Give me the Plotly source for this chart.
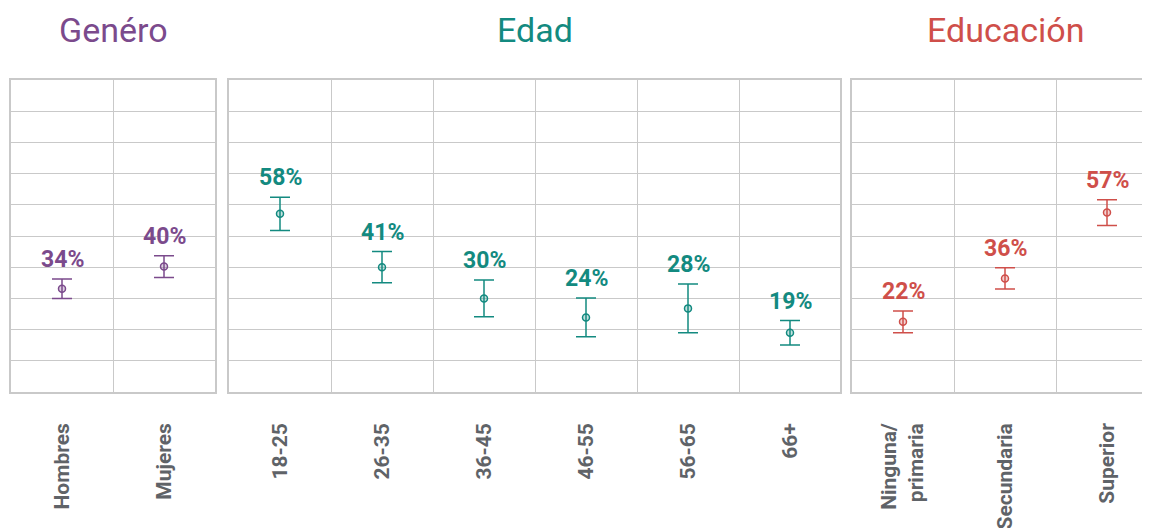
import plotly.graph_objects as go

# data
genero_cats = ["Hombres", "Mujeres"]
genero_vals = [33.1, 40.2]
genero_err = [3.1, 3.5]
genero_labels = ["34%", "40%"]

edad_cats = ["18-25", "26-35", "36-45", "46-55", "56-65", "66+"]
edad_vals = [57.1, 40.0, 30.0, 23.9, 26.8, 19.0]
edad_err = [5.3, 5.0, 5.9, 6.2, 7.8, 3.9]
edad_labels = ["58%", "41%", "30%", "24%", "28%", "19%"]

edu_cats = ["Ninguna/<br>primaria", "Secundaria", "Superior"]
edu_vals = [22.5, 36.4, 57.5]
edu_err = [3.5, 3.4, 4.1]
edu_labels = ["22%", "36%", "57%"]

groups = [
    ("Genéro", genero_cats, genero_vals, genero_err, genero_labels, "#7b4a8c", "rgba(123,74,140,0.25)"),
    ("Edad", edad_cats, edad_vals, edad_err, edad_labels, "#138a80", "rgba(19,138,128,0.25)"),
    ("Educación", edu_cats, edu_vals, edu_err, edu_labels, "#cf4f4a", "rgba(207,79,74,0.25)"),
]

# the page body adds an 8px offset; keep the figure inside the window
W, H = 1142, 520
ML, MR = 3, 0
plot_w = W - ML - MR
# pixel extents of each panel inside the plot area; the last one is cut at the edge
panels_px = [(0, 204), (218, 829), (841, 1147)]
cell = 102.0

grid = "#c9c9c9"
fig = go.Figure()

for i, (title, cats, vals, err, labels, col, fill) in enumerate(groups):
    n = i + 1
    xa = "x" if n == 1 else f"x{n}"
    ya = "y" if n == 1 else f"y{n}"
    fig.add_trace(go.Scatter(
        x=cats, y=vals, mode="markers",
        marker=dict(size=7, color=fill, line=dict(color=col, width=1.5)),
        error_y=dict(type="data", array=err, visible=True, color=col, thickness=1.5, width=10),
        xaxis=xa, yaxis=ya, showlegend=False, hoverinfo="skip",
    ))
    for c, v, e, t in zip(cats, vals, err, labels):
        fig.add_annotation(
            x=c, y=v + e, xref=xa, yref=ya, text=f"<b>{t}</b>",
            showarrow=False, yanchor="bottom", yshift=4,
            font=dict(family="Roboto", size=23, color=col),
        )
    x0, x1 = panels_px[i]
    x1c = min(x1, plot_w)
    dom = [x0 / plot_w, x1c / plot_w]
    span = (x1c - x0) / cell
    fig.add_annotation(
        x=(x0 + x1) / 2 / plot_w, y=1, xref="paper", yref="paper",
        xanchor="center", yanchor="middle", yshift=50, text=title, showarrow=False,
        font=dict(family="Roboto", size=34, color=col),
    )
    fig.update_layout(**{
        ("xaxis" if n == 1 else f"xaxis{n}"): dict(
            domain=dom, type="category", range=[-0.5, -0.5 + span],
            tickson="boundaries", showgrid=True, gridcolor=grid, gridwidth=1,
            showline=True, mirror=True, linecolor=grid, linewidth=1.5,
            tickangle=-90, ticks="", ticklabelstandoff=21, automargin=False,
            tickfont=dict(family="Roboto", size=21, color="#5f6368", weight="bold"),
            fixedrange=True, anchor=ya,
        ),
        ("yaxis" if n == 1 else f"yaxis{n}"): dict(
            range=[0, 100], dtick=10, showticklabels=False, showgrid=True,
            gridcolor=grid, gridwidth=1, zeroline=False, automargin=False,
            showline=True, mirror=True, linecolor=grid, linewidth=1.5,
            fixedrange=True, anchor=xa,
        ),
    })

fig.update_layout(
    width=W, height=H,
    margin=dict(l=ML, r=MR, t=72, b=136, autoexpand=False),
    plot_bgcolor="white", paper_bgcolor="white",
    showlegend=False,
)

fig.write_html("out.html")
